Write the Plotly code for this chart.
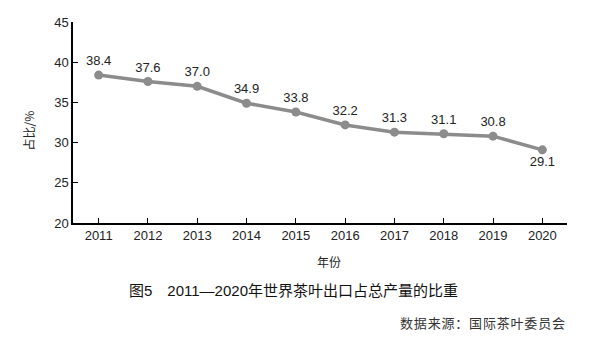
import plotly.graph_objects as go

years = [2011, 2012, 2013, 2014, 2015, 2016, 2017, 2018, 2019, 2020]
share = [38.4, 37.6, 37.0, 34.9, 33.8, 32.2, 31.3, 31.1, 30.8, 29.1]
labels = ["38.4", "37.6", "37.0", "34.9", "33.8", "32.2", "31.3", "31.1", "30.8", "29.1"]
label_pos = ["top center"] * 9 + ["bottom center"]
y_ticks = [20, 25, 30, 35, 40, 45]

fig = go.Figure()
fig.add_trace(go.Scatter(
    x=years, y=share, mode="lines+markers+text",
    text=labels, textposition=label_pos,
    textfont=dict(family="Liberation Sans, Arial", size=13, color="#222"),
    line=dict(color="#8c8c8c", width=3.5),
    marker=dict(color="#8c8c8c", size=9),
    cliponaxis=False, showlegend=False,
))

src = "\u200a".join("数据来源：国际茶叶委员会")

fig.update_layout(
    width=596, height=341,
    margin=dict(l=73, r=29, t=22, b=118),
    paper_bgcolor="white", plot_bgcolor="white",
    font=dict(family="Liberation Sans, Arial", size=13, color="#222"),
    xaxis=dict(
        range=[2010.48, 2020.5], tickmode="array", tickvals=years,
        ticktext=[str(y) for y in years],
        showline=True, linecolor="#000", linewidth=1.5,
        ticks="inside", ticklen=5, tickcolor="#000", tickwidth=1,
        showgrid=False, zeroline=False,
        tickfont=dict(size=13, color="#222"),
    ),
    yaxis=dict(
        range=[20, 45], tickmode="array", tickvals=y_ticks,
        showline=True, linecolor="#000", linewidth=1.5,
        ticks="inside", ticklen=5, tickcolor="#000", tickwidth=1,
        showgrid=False, zeroline=False,
        tickfont=dict(size=13, color="#222"),
    ),
    annotations=[
        dict(text="年份", xref="paper", yref="paper", x=0.518, y=-0.194,
             yanchor="middle", showarrow=False,
             font=dict(family="Noto Sans CJK SC", size=12, color="#222")),
        dict(text="占比/%", xref="paper", yref="paper", x=-0.089, y=0.46,
             xanchor="center", yanchor="middle", showarrow=False, textangle=-90,
             font=dict(family="Noto Sans CJK SC", size=12, color="#222")),
        dict(text="图5　2011—2020年世界茶叶出口占总产量的比重", xref="paper", yref="paper",
             x=0.447, y=-0.338, xanchor="center", yanchor="middle", showarrow=False,
             font=dict(family="Liberation Sans, Noto Sans CJK SC", size=15, color="#111")),
        dict(text=src, xref="paper", yref="paper",
             x=1.0, y=-0.4975, xanchor="right", yanchor="middle", showarrow=False,
             font=dict(family="Noto Sans CJK SC", size=13, color="#333")),
    ],
)

fig.write_html("out.html")
